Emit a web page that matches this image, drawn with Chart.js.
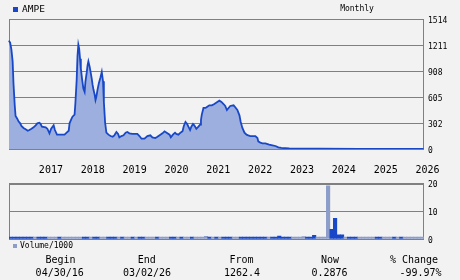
<!DOCTYPE html>
<html>
<head>
<meta charset="utf-8">
<script src="https://cdn.jsdelivr.net/npm/chart.js@4.4.1/dist/chart.umd.min.js"></script>
<style>
    html, body { margin: 0; padding: 0; background: #f2f2f2; }
    #wrap { position: relative; width: 460px; height: 280px; overflow: hidden;
            font-family: "DejaVu Sans Mono", monospace; color: #000; }
    canvas { position: absolute; left: 0; }
    .txt { position: absolute; white-space: nowrap; }
    .sq { position: absolute; }
</style>
</head>
<body>
<div id="wrap">
    <canvas id="price" width="460" height="180" style="top:0"></canvas>
    <canvas id="volume" width="460" height="74" style="top:175px"></canvas>
</div>
<script>
"use strict";

// price series (decimal year, close)
var priceDates = [
    2016.33, 2016.36, 2016.39, 2016.42, 2016.44, 2016.47, 2016.49, 2016.53, 2016.56, 2016.60,
    2016.63, 2016.68, 2016.73, 2016.78, 2016.82, 2016.87, 2016.92, 2016.97, 2017.01, 2017.06,
    2017.09, 2017.12, 2017.21, 2017.25, 2017.30, 2017.34, 2017.40, 2017.43, 2017.48, 2017.66,
    2017.71, 2017.76, 2017.78, 2017.82, 2017.85, 2017.90, 2017.92, 2017.95, 2017.97, 2017.99,
    2018.01, 2018.03, 2018.05, 2018.08, 2018.11, 2018.14, 2018.16, 2018.19, 2018.21, 2018.23,
    2018.26, 2018.28, 2018.31, 2018.33, 2018.35, 2018.38, 2018.40, 2018.42, 2018.45, 2018.48,
    2018.52, 2018.55, 2018.58, 2018.60, 2018.63, 2018.66, 2018.71, 2018.76, 2018.81, 2018.85,
    2018.90, 2018.94, 2018.97, 2019.02, 2019.07, 2019.12, 2019.16, 2019.21, 2019.28, 2019.40,
    2019.45, 2019.50, 2019.57, 2019.64, 2019.71, 2019.76, 2019.83, 2019.88, 2019.95, 2020.00,
    2020.05, 2020.10, 2020.17, 2020.20, 2020.25, 2020.30, 2020.33, 2020.38, 2020.43, 2020.48,
    2020.51, 2020.55, 2020.59, 2020.62, 2020.66, 2020.69, 2020.73, 2020.76, 2020.81, 2020.86,
    2020.90, 2020.92, 2020.94, 2020.98, 2021.03, 2021.07, 2021.12, 2021.18, 2021.24, 2021.31,
    2021.36, 2021.41, 2021.46, 2021.50, 2021.54, 2021.58, 2021.62, 2021.70, 2021.74, 2021.79,
    2021.84, 2021.87, 2021.91, 2021.96, 2022.01, 2022.05, 2022.10, 2022.22, 2022.27, 2022.29,
    2022.34, 2022.39, 2022.46, 2022.55, 2022.63, 2022.70, 2022.77, 2022.84, 2023.03, 2023.75,
    2024.70, 2026.24
];
var prices = [
    1262, 1238, 1161, 1021, 765, 509, 384, 353, 322, 299,
    268, 245, 229, 213, 221, 236, 252, 276, 299, 306,
    291, 260, 252, 236, 183, 236, 276, 221, 167, 167,
    190, 213, 299, 346, 376, 400, 539, 804, 1083, 1215,
    1168, 1052, 935, 812, 703, 664, 789, 889, 975, 1021,
    959, 905, 819, 749, 695, 633, 571, 609, 695, 765,
    835, 897, 789, 548, 306, 190, 167, 151, 143, 159,
    198, 175, 136, 151, 159, 190, 198, 183, 175, 175,
    151, 120, 120, 151, 159, 136, 128, 143, 167, 183,
    206, 190, 167, 136, 167, 190, 175, 167, 190, 206,
    268, 315, 291, 260, 221, 260, 291, 276, 236, 260,
    283, 338, 400, 478, 478, 493, 509, 509, 524, 548,
    563, 548, 524, 501, 454, 478, 501, 509, 486, 454,
    392, 315, 245, 190, 167, 159, 151, 151, 128, 89,
    73, 66, 66, 50, 43, 35, 20, 12, 6, 3,
    1, 0.2876
];
var priceTicks = [0, 302, 605, 908, 1211, 1514];
var yearTicks = [2017, 2018, 2019, 2020, 2021, 2022, 2023, 2024, 2025, 2026];

// monthly volume (/1000), May 2016 .. Mar 2026
var volume = [
    0.7, 0.7, 0.7, 0.7, 0.7, 0.7, 0.7, 0.7,
    0.7, 0.7, 0.7, 0.7, 0.7, 0.7, 0.7, 0.7, 0.7, 0.7, 0.7, 0.7,
    0.7, 0.7, 0.7, 0.7, 0.7, 0.7, 0.7, 0.7, 0.7, 0.7, 0.7, 0.7,
    0.7, 0.7, 0.7, 0.7, 0.7, 0.7, 0.7, 0.7, 0.7, 0.7, 0.7, 0.7,
    0.7, 0.7, 0.7, 0.7, 0.7, 0.7, 0.7, 0.7, 0.7, 0.7, 0.7, 0.7,
    1.0, 0.7, 0.7, 0.7, 0.7, 0.7, 0.7, 0.7, 0.7, 0.7, 0.7, 0.7,
    0.7, 0.7, 0.7, 0.7, 0.7, 0.7, 0.7, 0.7, 0.7, 1.1, 0.7, 0.7,
    0.7, 0.7, 0.7, 0.7, 0.9, 0.7, 0.7, 1.3, 0.7, 0.7, 0.7, 19.3,
    3.5, 7.5, 1.5, 1.5, 0.7, 0.7, 0.7, 0.7, 0.7, 0.7, 0.7, 0.7,
    0.7, 0.7, 0.7, 0.7, 0.7, 0.7, 0.7, 0.7, 0.7, 0.7, 0.7, 0.7,
    0.7, 0.7, 0.7
];
// 1 = dark bar, 0 = light bar
var volumeUp = [
    1, 1, 1, 1, 1, 1, 1, 0,
    1, 1, 1, 0, 0, 0, 1, 0, 0, 0, 0, 0,
    0, 1, 1, 0, 1, 1, 0, 0, 1, 1, 1, 0,
    1, 0, 0, 1, 0, 1, 1, 0, 0, 0, 1, 0,
    0, 0, 1, 1, 0, 1, 0, 0, 1, 0, 0, 0,
    0, 1, 0, 1, 0, 1, 1, 1, 0, 0, 1, 1,
    1, 1, 1, 1, 1, 1, 0, 1, 1, 1, 1, 1,
    1, 0, 0, 0, 0, 1, 1, 1, 0, 0, 0, 0,
    1, 1, 1, 1, 0, 1, 1, 1, 0, 0, 0, 0,
    0, 1, 1, 0, 0, 0, 1, 0, 1, 0, 0, 0,
    0, 0, 0
];
var volumeTicks = [0, 10, 20];

var footLabels = [ "Begin", "End", "From", "Now", "% Change" ];
var footValues = [ "04/30/16", "03/02/26", "1262.4", "0.2876", "-99.97%" ];

var months = [];
for (var i = 0; i < volume.length; i++) {
    var mm = 4 + i;
    months.push((2016 + Math.floor(mm / 12)) + "-" + ("0" + (mm % 12 + 1)).slice(-2));
}

var lineBlue  = "#1848c8";
var fillBlue  = "#9cafde";
var lightBar  = "#8c9dca";
var gridGrey  = "#808080";
var monoFont  = "'DejaVu Sans Mono', monospace";

var framePlugin = {
    id: "frame",
    beforeDatasetsDraw: function (chart) {
        var a = chart.chartArea, ctx = chart.ctx;
        ctx.save();
        ctx.strokeStyle = gridGrey;
        ctx.lineWidth = 1;
        ctx.strokeRect(Math.round(a.left) + 0.5, Math.round(a.top) + 0.5,
            Math.round(a.right - a.left) - 1, Math.round(a.bottom - a.top));
        ctx.restore();
    }
};

function fixedTicks(list) {
    return function (scale) {
        scale.ticks = list.map(function (v) { return { value: v }; });
    };
}

new Chart(document.getElementById("price"), {
    type   : "line",
    data   : {
        datasets: [ {
            data           : priceDates.map(function (d, i) { return { x: d, y: prices[i] }; }),
            borderColor    : lineBlue,
            backgroundColor: fillBlue,
            fill           : "origin",
            borderWidth    : 1.8,
            pointRadius    : 0,
            tension        : 0,
            clip           : { left: 1, top: 1, right: 1, bottom: 0 }
        } ]
    },
    options: {
        responsive: false,
        animation : false,
        layout    : { padding: { left: 9, top: 19, right: 0, bottom: 0 } },
        plugins   : { legend: { display: false }, tooltip: { enabled: false } },
        scales    : {
            x: {
                type           : "linear",
                min            : 2016.333,
                max            : 2026.25,
                grid           : { display: false, drawTicks: false },
                border         : { display: false },
                afterBuildTicks: fixedTicks(yearTicks),
                afterFit       : function (s) { s.height = 31; },
                ticks          : {
                    autoSkip   : false,
                    maxRotation: 0,
                    padding    : 15,
                    labelOffset: 14,
                    color      : "#000",
                    font       : { family: monoFont, size: 10 },
                    callback   : function (v) { return String(v); }
                }
            },
            y: {
                position       : "right",
                min            : 0,
                max            : 1514,
                grid           : { color: gridGrey, drawTicks: false },
                border         : { display: false },
                afterBuildTicks: fixedTicks(priceTicks),
                afterFit       : function (s) { s.width = 36; },
                ticks          : {
                    padding    : 4,
                    labelOffset: 2,
                    color      : "#000",
                    font       : { family: monoFont, size: 8 },
                    callback   : function (v) { return String(v); }
                }
            }
        }
    },
    plugins: [ framePlugin ]
});

new Chart(document.getElementById("volume"), {
    type   : "bar",
    data   : {
        labels  : months,
        datasets: [ {
            data              : volume,
            backgroundColor   : volumeUp.map(function (u) { return u ? lineBlue : lightBar; }),
            borderWidth       : 0,
            barPercentage     : 1,
            categoryPercentage: 1
        } ]
    },
    options: {
        responsive: false,
        animation : false,
        layout    : { padding: { left: 9, top: 4, right: 0, bottom: 10 } },
        plugins   : { legend: { display: false }, tooltip: { enabled: false } },
        scales    : {
            x: { display: false },
            y: {
                position       : "right",
                min            : 0,
                max            : 20,
                grid           : { color: gridGrey, drawTicks: false },
                border         : { display: false },
                afterBuildTicks: fixedTicks(volumeTicks),
                afterFit       : function (s) { s.width = 36; },
                ticks          : {
                    padding    : 4,
                    labelOffset: 1.5,
                    color      : "#000",
                    font       : { family: monoFont, size: 8 },
                    callback   : function (v) { return String(v); }
                }
            }
        }
    },
    plugins: [ framePlugin ]
});

// page texts
var wrap = document.getElementById("wrap");
function addText(str, cx, cy, size, align) {
    var d = document.createElement("div");
    d.className = "txt";
    d.textContent = str;
    d.style.fontSize = size + "px";
    d.style.lineHeight = "14px";
    d.style.top = (cy - 7) + "px";
    if (align === "left") {
        d.style.left = cx + "px";
    } else {
        d.style.left = (cx - 60) + "px";
        d.style.width = "120px";
        d.style.textAlign = "center";
    }
    wrap.appendChild(d);
}
function addSquare(x, y, w, h, color) {
    var s = document.createElement("div");
    s.className = "sq";
    s.style.left = x + "px";
    s.style.top = y + "px";
    s.style.width = w + "px";
    s.style.height = h + "px";
    s.style.background = color;
    wrap.appendChild(s);
}

addSquare(13, 7, 5, 5, lineBlue);
addText("AMPE", 22, 9, 9.5, "left");
addText("Monthly", 357, 9, 8);
addSquare(13, 244, 4, 4, lightBar);
addText("Volume/1000", 20, 245.5, 8, "left");

var labelX = [ 60.5, 146.7, 241.5, 330, 414 ];
var valueX = [ 59.7, 147, 242, 329.5, 420.5 ];
footLabels.forEach(function (t, i) { addText(t, labelX[i], 259.5, 10); });
footValues.forEach(function (t, i) { addText(t, valueX[i], 272.7, 10); });
</script>
</body>
</html>
